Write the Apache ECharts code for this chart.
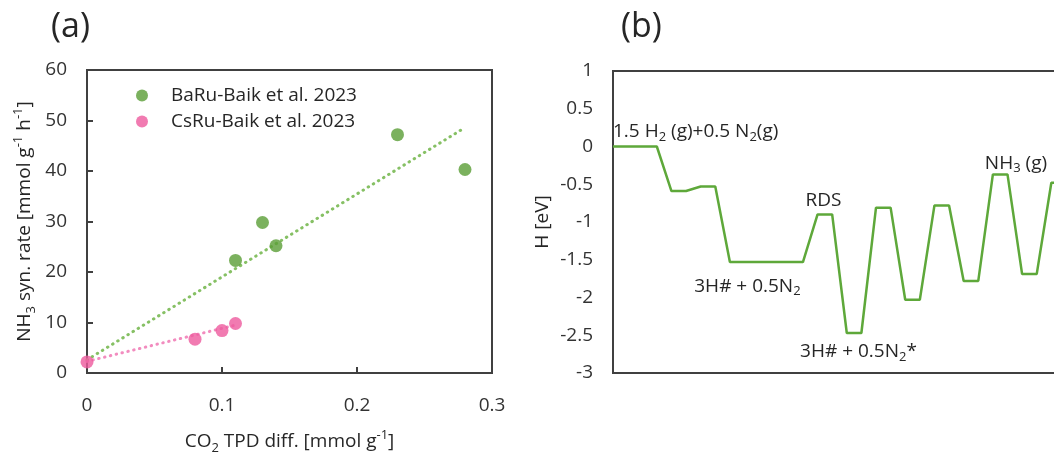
<!DOCTYPE html>
<html><head><meta charset="utf-8">
<script src="https://cdn.jsdelivr.net/npm/echarts@6/dist/echarts.min.js"></script>
<style>html,body{margin:0;padding:0;background:#fff}#c{width:1054px;height:455px}</style>
</head><body><div id="c"></div>
<script>
// ---- Panel (a): NH3 synthesis rate vs CO2 TPD difference ----
const baruX = [0.11, 0.13, 0.14, 0.23, 0.28];
const baruY = [22.3, 29.8, 25.2, 47.2, 40.3];
const csruX = [0, 0.08, 0.10, 0.11];
const csruY = [2.2, 6.7, 8.4, 9.8];
// trendline end points
const baruTrendX = [0, 0.28];
const baruTrendY = [2.6, 48.6];
const csruTrendX = [0, 0.11];
const csruTrendY = [2.3, 9.5];
const seriesNamesA = ['BaRu-Baik et al. 2023', 'CsRu-Baik et al. 2023'];

// ---- Panel (b): enthalpy profile ----
const stepX = [0, 3, 4, 5, 6, 7, 8, 13, 14, 15, 16, 17, 18, 19, 20, 21, 22, 23, 24, 25, 26, 27, 28, 29, 30, 31];
const stepH = [0, 0, -0.59, -0.59, -0.53, -0.53, -1.53, -1.53, -0.90, -0.90, -2.47, -2.47, -0.81, -0.81,
               -2.03, -2.03, -0.78, -0.78, -1.78, -1.78, -0.37, -0.37, -1.69, -1.69, -0.48, -0.48];
const profileLabels = ['1.5 H{sub|2} (g)+0.5 N{sub|2}(g)', 'RDS', '3H# + 0.5N{sub|2}', '3H# + 0.5N{sub|2}*', 'NH{sub|3} (g)'];

const zip = (a, b) => a.map((v, i) => [v, b[i]]);

const FONT = 'Open Sans';
const TXT = '#262626';
const AX = '#404040';
const FS = 19;
const rich = {
  sub: {fontSize: 13, lineHeight: 14, verticalAlign: 'bottom', fontFamily: FONT, color: TXT},
  sup: {fontSize: 13, lineHeight: 14, verticalAlign: 'top', fontFamily: FONT, color: TXT}
};
const nameStyle = {fontSize: FS, color: TXT, fontFamily: FONT, lineHeight: 26, rich: rich};
const labelStyle = {fontSize: FS, color: '#333', fontFamily: FONT};

const chart = echarts.init(document.getElementById('c'), null, {renderer: 'canvas'});

function mp(text, coord, align) {
  return {
    coord: coord,
    symbol: 'circle', symbolSize: 0,
    itemStyle: {color: 'rgba(0,0,0,0)'},
    label: {show: true, position: 'inside', align: align, verticalAlign: 'middle',
            formatter: text, fontSize: FS, color: TXT, fontFamily: FONT, lineHeight: 24, rich: rich}
  };
}

const option = {
  animation: false,
  backgroundColor: '#fff',
  textStyle: {fontFamily: FONT},
  title: [
    {text: '(a)', left: 51, top: 10, padding: 0, textStyle: {fontSize: 34, fontWeight: 'normal', color: TXT, fontFamily: FONT}},
    {text: '(b)', left: 621, top: 10, padding: 0, textStyle: {fontSize: 34, fontWeight: 'normal', color: TXT, fontFamily: FONT}}
  ],
  legend: {
    data: seriesNamesA,
    orient: 'vertical',
    left: 131, top: 81,
    itemWidth: 12, itemHeight: 12, itemGap: 7,
    icon: 'circle',
    textStyle: {fontSize: FS, color: TXT, fontFamily: FONT, padding: [0, 0, 0, 18]}
  },
  grid: [
    {left: 87, width: 405, top: 70, height: 303, show: true, borderColor: AX, borderWidth: 2,
     containLabel: false, outerBoundsMode: 'none'},
    {left: 613, width: 526, top: 71, height: 302, show: true, borderColor: AX, borderWidth: 2,
     containLabel: false, outerBoundsMode: 'none'}
  ],
  xAxis: [
    {gridIndex: 0, type: 'value', min: 0, max: 0.3, interval: 0.1,
     splitLine: {show: false},
     axisLine: {show: true, onZero: false, lineStyle: {color: AX, width: 2}},
     axisTick: {show: true, inside: true, length: 6, lineStyle: {color: AX, width: 2}},
     axisLabel: Object.assign({margin: 23}, labelStyle),
     name: 'CO{sub|2} TPD diff. [mmol g{sup|-1}]', nameLocation: 'middle', nameGap: 56,
     nameTextStyle: nameStyle},
    {gridIndex: 1, type: 'value', min: 0, max: 36,
     splitLine: {show: false},
     axisLine: {show: true, onZero: false, lineStyle: {color: AX, width: 2}},
     axisTick: {show: false}, axisLabel: {show: false}}
  ],
  yAxis: [
    {gridIndex: 0, type: 'value', min: 0, max: 60, interval: 10,
     splitLine: {show: false},
     axisLine: {show: true, onZero: false, lineStyle: {color: AX, width: 2}},
     axisTick: {show: true, inside: true, length: 6, lineStyle: {color: AX, width: 2}},
     axisLabel: Object.assign({margin: 20}, labelStyle),
     name: 'NH{sub|3} syn. rate [mmol g{sup|-1} h{sup|-1}]', nameLocation: 'middle', nameGap: 49, nameRotate: 90,
     nameTextStyle: nameStyle},
    {gridIndex: 1, type: 'value', min: -3, max: 1, interval: 0.5,
     splitLine: {show: false},
     axisLine: {show: true, onZero: false, lineStyle: {color: AX, width: 2}},
     axisTick: {show: false},
     axisLabel: Object.assign({margin: 20}, labelStyle),
     name: 'H [eV]', nameLocation: 'middle', nameGap: 57, nameRotate: 90,
     nameTextStyle: nameStyle}
  ],
  series: [
    {type: 'line', name: 'BaRu trend', xAxisIndex: 0, yAxisIndex: 0, data: zip(baruTrendX, baruTrendY),
     symbol: 'none', silent: true, z: 1,
     lineStyle: {color: '#86c064', width: 3, type: [0.5, 5.5], cap: 'round'}},
    {type: 'line', name: 'CsRu trend', xAxisIndex: 0, yAxisIndex: 0, data: zip(csruTrendX, csruTrendY),
     symbol: 'none', silent: true, z: 1,
     lineStyle: {color: '#f28cbf', width: 3, type: [0.5, 5.5], cap: 'round'}},
    {type: 'scatter', name: seriesNamesA[0], xAxisIndex: 0, yAxisIndex: 0, data: zip(baruX, baruY),
     symbolSize: 13, itemStyle: {color: '#5a9e36'}, z: 3},
    {type: 'scatter', name: seriesNamesA[1], xAxisIndex: 0, yAxisIndex: 0, data: zip(csruX, csruY),
     symbolSize: 13, itemStyle: {color: '#ee5a9e'}, z: 3},
    {type: 'line', name: 'profile', xAxisIndex: 1, yAxisIndex: 1, data: zip(stepX, stepH),
     symbol: 'none', clip: false,
     lineStyle: {color: '#5ea83a', width: 2.5},
     markPoint: {
       silent: true,
       data: [
         mp(profileLabels[0], [0, 0.2], 'left'),
         mp(profileLabels[1], [14.4, -0.71], 'center'),
         mp(profileLabels[2], [9.2, -1.85], 'center'),
         mp(profileLabels[3], [16.8, -2.72], 'center'),
         mp(profileLabels[4], [25.45, -0.22], 'left')
       ]
     }}
  ]
};
chart.setOption(option);
</script>
</body></html>
